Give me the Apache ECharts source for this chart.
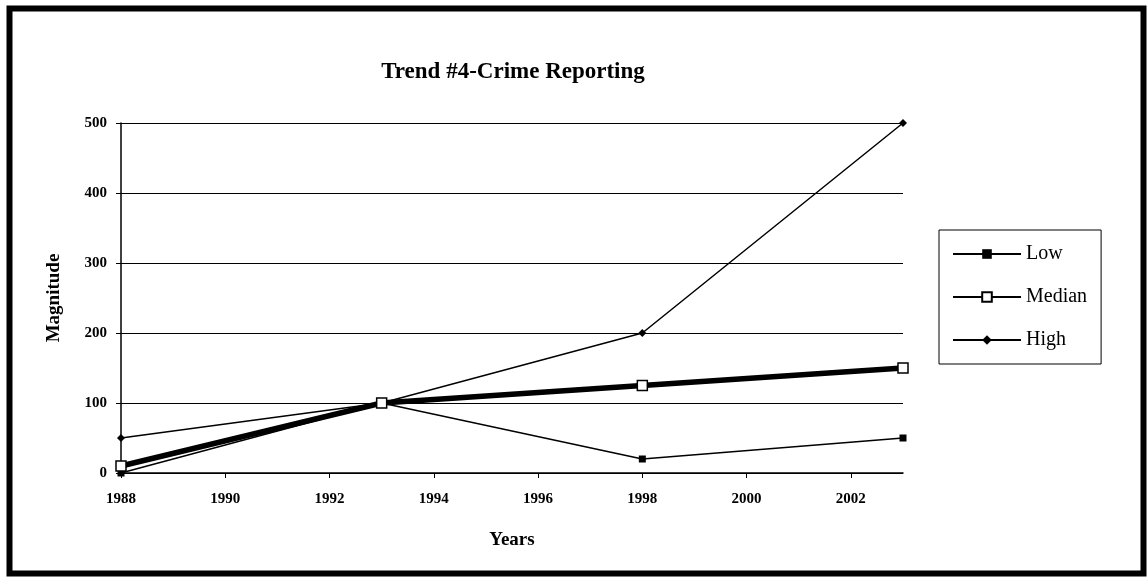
<!DOCTYPE html>
<html>
<head>
<meta charset="utf-8">
<script src="https://cdn.jsdelivr.net/npm/echarts@6/dist/echarts.min.js"></script>
<style>
  html, body { margin: 0; padding: 0; background: #fff; }
  #chart { width: 1147px; height: 578px; }
</style>
</head>
<body>
<div id="chart"></div>
<script>
const years = [1988, 1993, 1998, 2003];
const lowValues = [0, 100, 20, 50];
const medianValues = [10, 100, 125, 150];
const highValues = [50, 100, 200, 500];
const seriesNames = ['Low', 'Median', 'High'];

const toPairs = (vals) => years.map((y, i) => [y, vals[i]]);
const FONT = 'Liberation Serif';

const chart = echarts.init(document.getElementById('chart'));
chart.setOption({
  backgroundColor: '#fff',
  animation: false,
  title: {
    text: 'Trend #4-Crime Reporting',
    left: 508,
    textAlign: 'center',
    top: 56,
    textStyle: { fontFamily: FONT, fontSize: 23, fontWeight: 'bold', color: '#000' }
  },
  graphic: [{
    type: 'rect',
    shape: { x: 9.5, y: 8.5, width: 1134, height: 565 },
    style: { fill: 'none', stroke: '#000', lineWidth: 6 },
    silent: true
  }],
  grid: { left: 121, right: 244, top: 123, bottom: 105 },
  legend: {
    orient: 'vertical',
    left: 939,
    top: 230,
    data: seriesNames,
    borderColor: '#000',
    borderWidth: 1,
    borderRadius: 0,
    padding: [14, 14, 14, 13],
    itemWidth: 68,
    itemHeight: 12,
    itemGap: 23,
    textStyle: { fontFamily: FONT, fontSize: 20, color: '#000' }
  },
  xAxis: {
    type: 'value',
    min: 1988,
    max: 2003,
    interval: 2,
    name: 'Years',
    nameLocation: 'middle',
    nameGap: 58,
    nameTextStyle: { fontFamily: FONT, fontSize: 19, fontWeight: 'bold', color: '#000' },
    axisLine: { show: true, lineStyle: { color: '#000', width: 1.5 } },
    axisTick: { show: true, inside: false, length: 5, lineStyle: { color: '#000' } },
    axisLabel: {
      showMaxLabel: false,
      margin: 19,
      fontFamily: FONT, fontSize: 15, fontWeight: 'bold', color: '#000',
      formatter: (v) => String(v)
    },
    splitLine: { show: false }
  },
  yAxis: {
    type: 'value',
    min: 0,
    max: 500,
    interval: 100,
    name: 'Magnitude',
    nameLocation: 'middle',
    nameRotate: 90,
    nameGap: 57,
    nameTextStyle: { fontFamily: FONT, fontSize: 19, fontWeight: 'bold', color: '#000' },
    axisLine: { show: true, lineStyle: { color: '#000', width: 1.5 } },
    axisTick: { show: true, inside: false, length: 5, lineStyle: { color: '#000' } },
    axisLabel: { margin: 14, fontFamily: FONT, fontSize: 15, fontWeight: 'bold', color: '#000' },
    splitLine: { show: true, lineStyle: { color: '#000', width: 1.2 } }
  },
  series: [
    {
      name: 'Low', type: 'line', data: toPairs(lowValues),
      symbol: 'rect', symbolSize: 7,
      lineStyle: { color: '#000', width: 1.5 },
      itemStyle: { color: '#000' },
      z: 3
    },
    {
      name: 'Median', type: 'line', data: toPairs(medianValues),
      symbol: 'rect', symbolSize: 10,
      lineStyle: { color: '#000', width: 5.5 },
      itemStyle: { color: '#fff', borderColor: '#000', borderWidth: 1.5 },
      z: 4
    },
    {
      name: 'High', type: 'line', data: toPairs(highValues),
      symbol: 'diamond', symbolSize: 8,
      lineStyle: { color: '#000', width: 1.5 },
      itemStyle: { color: '#000' },
      z: 2
    }
  ]
});
</script>
</body>
</html>
